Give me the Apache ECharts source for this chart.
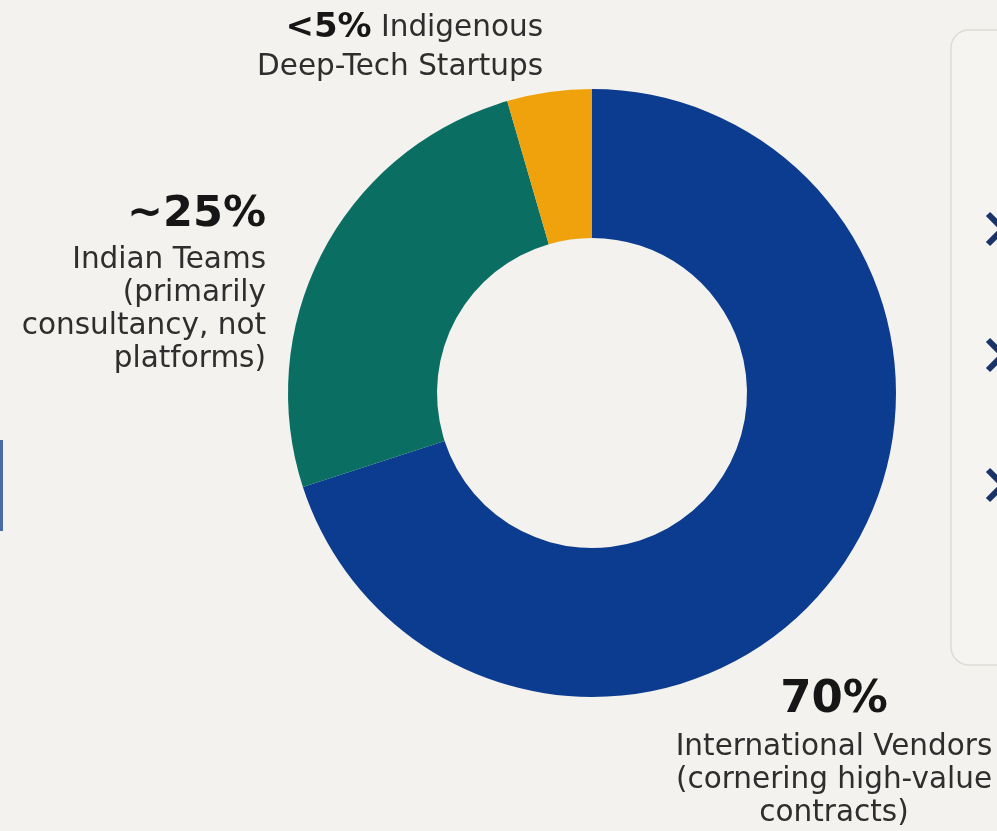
<!DOCTYPE html>
<html>
<head>
<meta charset="utf-8">
<script src="https://cdn.jsdelivr.net/npm/echarts@6/dist/echarts.min.js"></script>
<style>
  html, body { margin: 0; padding: 0; background: #f3f2ee; }
  #chart { width: 997px; height: 831px; }
</style>
</head>
<body>
<div id="chart"></div>
<script>
const categories = ['International Vendors', 'Indian Teams', 'Indigenous Deep-Tech Startups'];
const values = [70, 25.5, 4.5];
const shareLabels = ['70%', '~25%', '<5%'];
const descriptions = [
  ['International Vendors', '(cornering high-value', 'contracts)'],
  ['Indian Teams', '(primarily', 'consultancy, not', 'platforms)'],
  ['Indigenous', 'Deep-Tech Startups']
];
const colors = ['#0c3c8f', '#0a6e62', '#f0a20c'];

// label anchor positions (layout only)
const labelLayouts = [
  { x: 834, y: 670, align: 'center' },
  { x: 266, y: 186, align: 'right' },
  { x: 543, y: 7, align: 'right' }
];

function formatLabel(i) {
  if (i === 2) {
    return '{mid|' + shareLabels[i] + '}{small| ' + descriptions[i][0] + '}\n{small2|' + descriptions[i][1] + '}';
  }
  const style = i === 0 ? 'big' : 'med';
  return '{' + style + '|' + shareLabels[i] + '}\n' +
    descriptions[i].map(function (d) { return '{txt|' + d + '}'; }).join('\n');
}

const chart = echarts.init(document.getElementById('chart'), null, { renderer: 'canvas' });
const font = '"DejaVu Sans", Verdana, sans-serif';

chart.setOption({
  backgroundColor: '#f3f2ee',
  animation: false,
  graphic: [
    {
      type: 'rect',
      shape: { x: 951, y: 30, width: 120, height: 635, r: 18 },
      style: { fill: '#f5f4f1', stroke: '#dddbd6', lineWidth: 1.5 }
    },
    {
      type: 'polyline',
      shape: { points: [[988, 214], [1003, 229], [988, 244]] },
      style: { stroke: '#1b3467', lineWidth: 6, fill: null }
    },
    {
      type: 'polyline',
      shape: { points: [[988, 340], [1003, 355], [988, 370]] },
      style: { stroke: '#1b3467', lineWidth: 6, fill: null }
    },
    {
      type: 'polyline',
      shape: { points: [[988, 470], [1003, 485], [988, 500]] },
      style: { stroke: '#1b3467', lineWidth: 6, fill: null }
    },
    {
      type: 'line',
      shape: { x1: 1.5, y1: 440, x2: 1.5, y2: 531 },
      style: { stroke: '#4a6aa6', lineWidth: 3 }
    }
  ],
  series: [{
    type: 'pie',
    center: [592, 393],
    radius: [155, 304],
    startAngle: 90,
    clockwise: true,
    avoidLabelOverlap: false,
    label: {
      show: true,
      position: 'outside',
      fontFamily: font,
      formatter: function (p) { return formatLabel(p.dataIndex); },
      rich: {
        big: { fontFamily: font, fontSize: 45, fontWeight: 'bold', lineHeight: 61, color: '#161616' },
        med: { fontFamily: font, fontSize: 43, fontWeight: 'bold', lineHeight: 58, color: '#161616' },
        mid: { fontFamily: font, fontSize: 34, fontWeight: 'bold', lineHeight: 42, color: '#161616' },
        txt: { fontFamily: font, fontSize: 29.5, lineHeight: 33, color: '#2e2e2e' },
        small: { fontFamily: font, fontSize: 29.5, lineHeight: 42, color: '#2e2e2e' },
        small2: { fontFamily: font, fontSize: 29.5, lineHeight: 37, color: '#2e2e2e' }
      }
    },
    labelLine: { show: false },
    labelLayout: function (params) {
      const l = labelLayouts[params.dataIndex];
      return { x: l.x, y: l.y, align: l.align, verticalAlign: 'top' };
    },
    data: categories.map(function (c, i) {
      return { name: c, value: values[i], itemStyle: { color: colors[i] } };
    })
  }]
});
</script>
</body>
</html>
